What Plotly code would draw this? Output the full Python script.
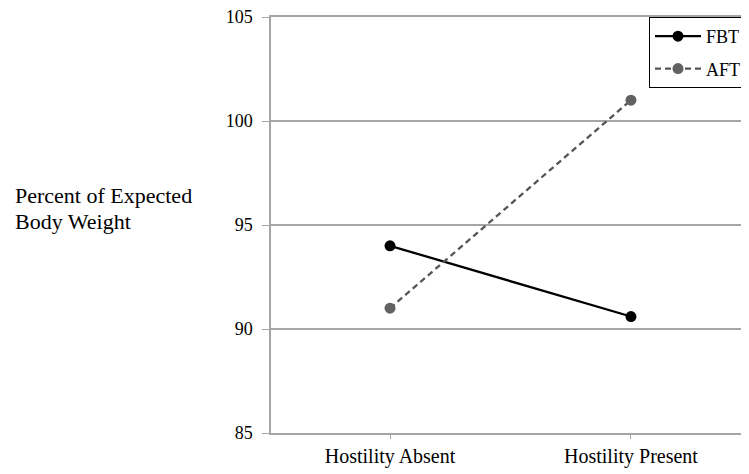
import plotly.graph_objects as go

categories = ["Hostility Absent", "Hostility Present"]
fbt_values = [94.0, 90.6]
aft_values = [91.0, 101.0]
y_ticks = [85, 90, 95, 100, 105]

FONT = "Liberation Serif, Times New Roman, serif"

# The page body keeps the browser's default 8px margin, so the figure is 8px smaller.
W, H = 741, 466
L, R, T, B = 263, 0, 9, 41
PW = W - L - R
PH = H - T - B

fig = go.Figure()
fig.add_trace(go.Scatter(
    x=categories, y=fbt_values, name="FBT", mode="lines+markers",
    line=dict(color="#000000", width=2.3),
    marker=dict(color="#000000", size=11),
    legendgroup="a",
))
fig.add_trace(go.Scatter(
    x=categories, y=aft_values, name="AFT", mode="lines+markers",
    line=dict(color="#555555", width=2.3, dash="6px,4px"),
    marker=dict(color="#626262", size=11),
    legendgroup="b",
))

fig.update_layout(
    width=W, height=H,
    margin=dict(l=L, r=R, t=T, b=B, autoexpand=False),
    paper_bgcolor="white", plot_bgcolor="white",
    font=dict(family=FONT, color="#000000"),
    showlegend=True,
    legend=dict(
        x=(641 - L) / PW, y=1.0, xanchor="left", yanchor="top",
        bgcolor="white", bordercolor="#000000", borderwidth=1,
        font=dict(family=FONT, size=18, color="#000000"),
        tracegroupgap=6,
        itemwidth=46,
    ),
    xaxis=dict(
        type="category", range=[-0.494, 1.49], automargin=False,
        showgrid=False, showline=True, mirror=True,
        linecolor="#a6a6a6", linewidth=1.5,
        ticks="outside", ticklen=4, tickcolor="#a6a6a6",
        tickfont=dict(family=FONT, size=20, color="#000000"),
        zeroline=False,
    ),
    yaxis=dict(
        range=[85, 105], tickvals=y_ticks, ticktext=[str(v) for v in y_ticks],
        automargin=False, ticklabeloverflow="allow",
        showgrid=True, gridcolor="#a6a6a6", gridwidth=1.5,
        showline=True, linecolor="#a6a6a6", linewidth=1.5,
        ticks="outside", ticklen=7, tickcolor="#a6a6a6",
        ticklabelstandoff=6,
        tickfont=dict(family=FONT, size=18, color="#000000"),
        zeroline=False,
    ),
    annotations=[
        dict(
            text="Percent of Expected",
            xref="paper", yref="paper", x=(6 - L) / PW, y=0.5700,
            xanchor="left", yanchor="middle", align="left", showarrow=False,
            borderpad=0,
            font=dict(family=FONT, size=22, color="#000000"),
        ),
        dict(
            text="Body Weight",
            xref="paper", yref="paper", x=(6 - L) / PW, y=0.5095,
            xanchor="left", yanchor="middle", align="left", showarrow=False,
            borderpad=0,
            font=dict(family=FONT, size=22, color="#000000"),
        ),
    ],
)

fig.write_html("out.html")
